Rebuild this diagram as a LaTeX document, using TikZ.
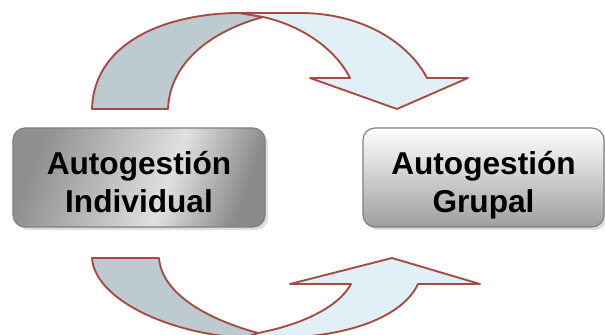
\documentclass[tikz,border=0pt]{standalone}
\usepackage{fontspec}
\setmainfont{Liberation Sans}
\usetikzlibrary{shadows}

\definecolor{edgered}{HTML}{A64B44}
\definecolor{bandback}{HTML}{BDCAD0}
\definecolor{bandfront}{HTML}{E1EFF6}
\pgfdeclarehorizontalshading{indivshade}{100bp}{color(0bp)=(black!44); color(25bp)=(black!44); color(57bp)=(black!12); color(75bp)=(black!46); color(100bp)=(black!46)}

\begin{document}
\begin{tikzpicture}[
  x=0.03cm, y=-0.03cm,
  box/.style={rectangle, rounded corners=0.36cm, draw=black!50, line width=1pt,
    minimum width=7.56cm, minimum height=2.97cm, align=center,
    text height=58.9pt, text depth=0pt,
    font=\fontsize{27}{31.6}\selectfont\bfseries,
    drop shadow={opacity=0.25, shadow xshift=0.09cm, shadow yshift=-0.09cm}},
  back/.style={fill=bandback, draw=edgered, line width=1.6pt, line join=round},
  front/.style={fill=bandfront, draw=edgered, line width=1.6pt, line join=round},
]
\useasboundingbox (0,0) rectangle (605,335);

% === Boxes ===
\node[box, shading=indivshade, shading angle=-20] (indiv) at (139,177.5) {Autogestión\\Individual};
\node[box, top color=white, bottom color=black!38, minimum width=7.23cm] (grupal) at (483.5,177.5) {Autogestión\\Grupal};

% === Upper arrow ===
\draw[back] (92,109) .. controls (94,40) and (170,13) .. (240,13) -- (263,17)
  .. controls (215,30) and (170,60) .. (168,109) -- cycle;
\draw[front] (240,13) -- (300,13) .. controls (365,13) and (410,45) .. (427,78)
  -- (468,78) -- (397,109) -- (310,78) -- (350,78)
  .. controls (335,48) and (300,25) .. (263,17) -- cycle;

% === Lower arrow ===
\draw[back] (92,258) -- (159,258) .. controls (162,295) and (210,320) .. (258,333)
  -- (245,338) .. controls (170,334) and (95,300) .. (92,258) -- cycle;
\draw[front] (245,338) -- (280,338) .. controls (360,336) and (405,312) .. (418,284)
  -- (480,284) -- (392,258) -- (290,284) -- (351,284)
  .. controls (338,308) and (300,325) .. (258,333) -- cycle;

\end{tikzpicture}
\end{document}
